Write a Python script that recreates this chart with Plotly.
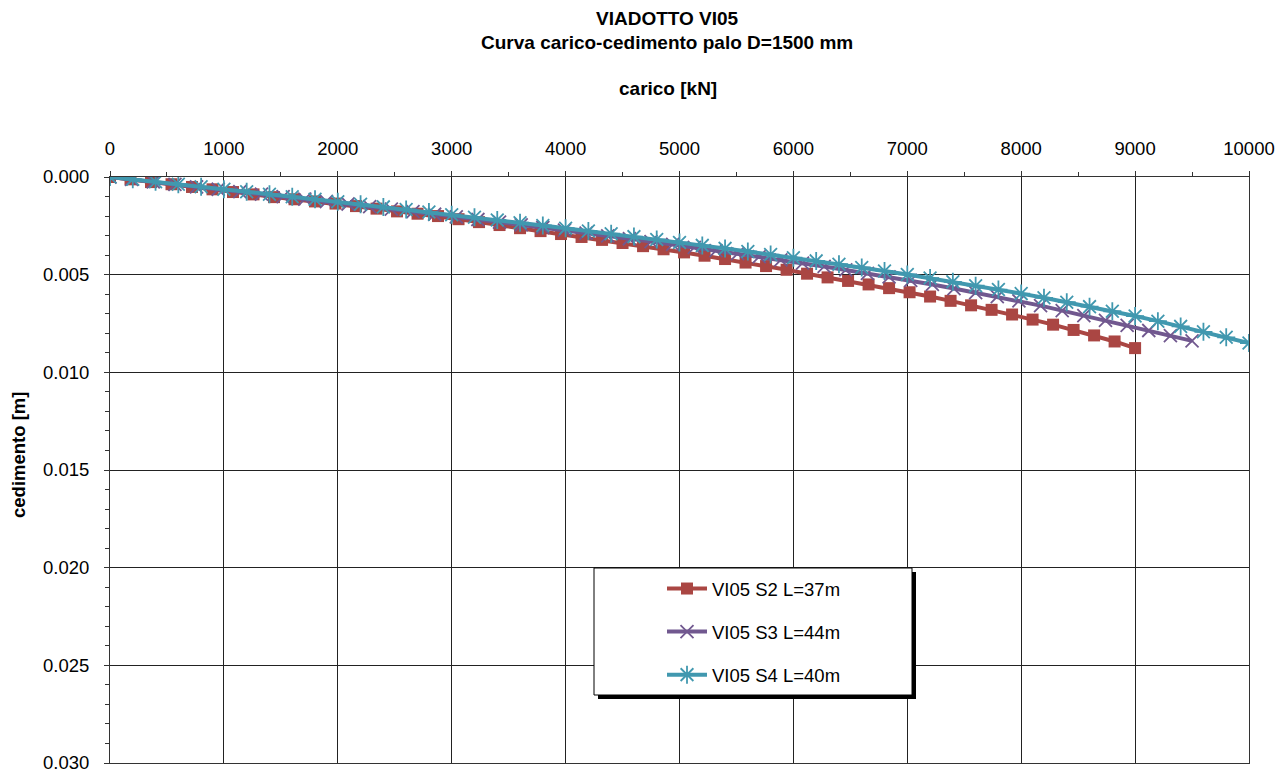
import plotly.graph_objects as go

# ---- data ----
series_names = ["VI05 S2 L=37m", "VI05 S3 L=44m", "VI05 S4 L=40m"]

load_s2 = [i * 180 for i in range(51)]   # kN, 0..9000
load_s3 = [i * 190 for i in range(51)]   # kN, 0..9500
load_s4 = [i * 200 for i in range(51)]   # kN, 0..10000

settle_s2 = [0.0, 0.00012, 0.00026, 0.00037, 0.00051, 0.00063, 0.00077, 0.00089, 0.00103, 0.00114,
             0.00125, 0.00136, 0.00149, 0.00162, 0.00176, 0.00188, 0.00200, 0.00216, 0.00231, 0.00246,
             0.00262, 0.00277, 0.00292, 0.00307, 0.00322, 0.00338, 0.00354, 0.00370, 0.00386, 0.00403,
             0.00420, 0.00438, 0.00456, 0.00475, 0.00495, 0.00514, 0.00532, 0.00550, 0.00569, 0.00590,
             0.00612, 0.00634, 0.00657, 0.00680, 0.00704, 0.00730, 0.00756, 0.00783, 0.00811, 0.00842,
             0.00876]

settle_s3 = [0.0, 0.000125, 0.000251, 0.000376, 0.000502, 0.000627, 0.000752, 0.000878, 0.001003, 0.001129,
             0.001254, 0.001382, 0.001513, 0.001644, 0.001775, 0.001907, 0.002039, 0.002176, 0.002312, 0.002449,
             0.002586, 0.002723, 0.002869, 0.003015, 0.003161, 0.003308, 0.003454, 0.003608, 0.003766, 0.003923,
             0.004081, 0.004239, 0.004404, 0.004581, 0.004758, 0.004935, 0.005111, 0.005293, 0.005502, 0.005711,
             0.005920, 0.006129, 0.006338, 0.006586, 0.006839, 0.007092, 0.007344, 0.007597, 0.007858, 0.008124,
             0.008390]

settle_s4 = [0.0, 0.00012, 0.000245, 0.000371, 0.0005, 0.00063, 0.000756, 0.000883, 0.001011, 0.00114,
             0.00127, 0.0014, 0.00153, 0.001662, 0.001795, 0.00193, 0.002065, 0.002201, 0.002339, 0.002479,
             0.00262, 0.002762, 0.002906, 0.003052, 0.0032, 0.00335, 0.003501, 0.003655, 0.003811, 0.003969,
             0.00413, 0.004294, 0.004462, 0.004634, 0.00481, 0.00499, 0.005176, 0.005367, 0.005563, 0.005764,
             0.00597, 0.006185, 0.006407, 0.006637, 0.006874, 0.00712, 0.00738, 0.007648, 0.007924, 0.008208,
             0.0085]

x_ticks = [0, 1000, 2000, 3000, 4000, 5000, 6000, 7000, 8000, 9000, 10000]
y_ticks = [0.000, 0.005, 0.010, 0.015, 0.020, 0.025, 0.030]

# ---- styling ----
FONT = "Arial, Liberation Sans, sans-serif"
RED, PURPLE, TEAL = "#AA4643", "#71588F", "#4198AF"
FS = 18.5

W, H = 1277, 769
L, R, T, B = 110, 28, 177, 6
PW, PH = W - L - R, H - T - B


def px(p):
    return (p - L) / PW


def py(p):
    return (H - B - p) / PH


fig = go.Figure()
fig.add_trace(go.Scatter(
    x=load_s2, y=settle_s2, name=series_names[0], mode="lines+markers", legendgroup="a",
    line=dict(color=RED, width=4),
    marker=dict(symbol="square", size=12, color=RED, line=dict(width=0))))
fig.add_trace(go.Scatter(
    x=load_s3, y=settle_s3, name=series_names[1], mode="lines+markers", legendgroup="b",
    line=dict(color=PURPLE, width=4),
    marker=dict(symbol="x-thin-open", size=13, color=PURPLE, line=dict(width=1.8, color=PURPLE))))
fig.add_trace(go.Scatter(
    x=load_s4, y=settle_s4, name=series_names[2], mode="lines+markers", legendgroup="c",
    line=dict(color=TEAL, width=4),
    marker=dict(symbol="asterisk-open", size=15, color=TEAL, line=dict(width=1.8, color=TEAL))))

fig.update_layout(
    width=W, height=H,
    margin=dict(l=L, r=R, t=T, b=B, autoexpand=False),
    paper_bgcolor="white", plot_bgcolor="white",
    font=dict(family=FONT, size=FS, color="black"),
    showlegend=True,
    legend=dict(x=px(662), y=py(570), xanchor="left", yanchor="top",
                bgcolor="rgba(0,0,0,0)", borderwidth=0, itemwidth=40,
                tracegroupgap=16, font=dict(size=FS, family=FONT)),
    xaxis=dict(side="top", range=[0, 10000], tickvals=x_ticks, ticktext=[str(v) for v in x_ticks],
               showgrid=True, gridcolor="#222", gridwidth=1, automargin=False,
               showline=True, linecolor="#333", linewidth=1, mirror=True,
               ticks="outside", ticklen=5, tickcolor="#333", ticklabelstandoff=9,
               ticklabeloverflow="allow",
               minor=dict(dtick=500, tick0=0, ticks="outside", ticklen=4, tickcolor="#333", showgrid=False),
               zeroline=False, tickfont=dict(size=FS)),
    yaxis=dict(range=[0.030, 0.0], tickvals=y_ticks, ticktext=["%.3f" % v for v in y_ticks],
               showgrid=True, gridcolor="#222", gridwidth=1, automargin=False,
               showline=True, linecolor="#333", linewidth=1, mirror=True,
               ticks="outside", ticklen=5, tickcolor="#333", ticklabelstandoff=11,
               ticklabeloverflow="allow",
               minor=dict(dtick=0.001, tick0=0, ticks="outside", ticklen=4, tickcolor="#333", showgrid=False),
               zeroline=False, tickfont=dict(size=FS)),
)

# legend box with shadow
fig.add_shape(type="rect", xref="paper", yref="paper", layer="above",
              x0=px(598), x1=px(916), y0=py(699), y1=py(572),
              fillcolor="black", line=dict(width=0))
fig.add_shape(type="rect", xref="paper", yref="paper", layer="above",
              x0=px(594), x1=px(912), y0=py(695), y1=py(568),
              fillcolor="white", line=dict(color="black", width=1))

ann = [
    dict(text="<b>VIADOTTO VI05</b>", x=px(667), y=py(18)),
    dict(text="<b>Curva carico-cedimento palo D=1500 mm</b>", x=px(667), y=py(43)),
    dict(text="<b>carico [kN]</b>", x=px(668), y=py(89)),
]
for a in ann:
    fig.add_annotation(text=a["text"], x=a["x"], y=a["y"], xref="paper", yref="paper",
                       xanchor="center", yanchor="middle", showarrow=False,
                       font=dict(family=FONT, size=19, color="black"))
fig.add_annotation(text="<b>cedimento [m]</b>", x=px(18), y=py(455), xref="paper", yref="paper",
                   xanchor="center", yanchor="middle", showarrow=False, textangle=-90,
                   font=dict(family=FONT, size=FS, color="black"))

fig.write_html("out.html")
